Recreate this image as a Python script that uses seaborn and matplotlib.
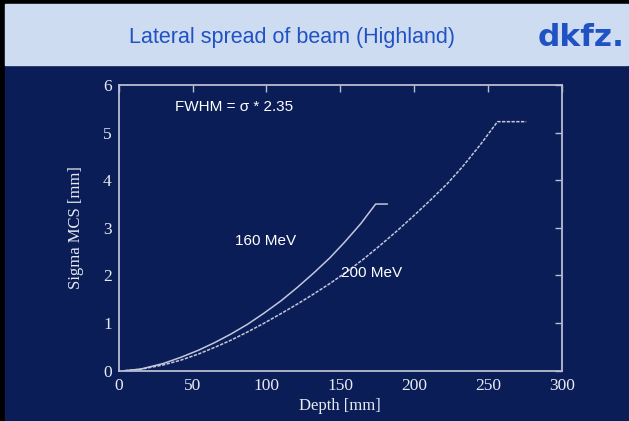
import matplotlib
matplotlib.use("Agg")
import matplotlib.pyplot as plt
from matplotlib.patches import Rectangle
import seaborn as sns
import pandas as pd

# Data
depth_160 = [4, 15, 30, 42, 54, 65, 76, 87, 98, 110, 121, 132, 143, 153, 164, 174, 182]
sigma_160 = [0.0, 0.035, 0.15, 0.28, 0.43, 0.59, 0.77, 0.97, 1.20, 1.47, 1.75, 2.05, 2.37, 2.70, 3.09, 3.50, 3.50]
depth_200 = [4, 15, 30, 42, 54, 65, 76, 87, 98, 110, 121, 132, 143, 155, 166, 177, 189, 200, 211, 222.6, 233,
             245, 256.5, 276]
sigma_200 = [0.0, 0.03, 0.12, 0.22, 0.35, 0.49, 0.64, 0.81, 0.99, 1.20, 1.40, 1.61, 1.83, 2.09, 2.35, 2.63, 2.95,
             3.26, 3.58, 3.93, 4.29, 4.75, 5.23, 5.23]
x_ticks = [0, 50, 100, 150, 200, 250, 300]
y_ticks = [0, 1, 2, 3, 4, 5, 6]

title = "Lateral spread of beam (Highland)"
logo = "dkfz."
xlabel = "Depth [mm]"
ylabel = "Sigma MCS [mm]"

NAVY = "#0a1d56"
HEADER = "#cddcf1"
BLUE = "#2152c4"
LINE = "#c3c7dc"
AXIS = "#b9bdd2"
TXT = "#e8eaf2"

sns.set_theme(style="white")
W, H = 629, 421
fig = plt.figure(figsize=(W / 100, H / 100), dpi=100)
fig.patch.set_facecolor(NAVY)

# slide decoration
fig.patches.append(Rectangle((0, 0), 1, 1, transform=fig.transFigure, color="black", zorder=-3))
fig.patches.append(Rectangle((5 / W, 0), (W - 6) / W, (H - 4) / H, transform=fig.transFigure,
                             color=NAVY, zorder=-2))
fig.patches.append(Rectangle((5 / W, (H - 65) / H), (W - 6) / W, 61 / H, transform=fig.transFigure,
                             color=HEADER, zorder=-1))
fig.text(292 / W, 1 - 37 / H, title, ha="center", va="center", color=BLUE,
         fontsize=15.5, family="Liberation Sans")
fig.text(581 / W, 1 - 38 / H, logo, ha="center", va="center", color=BLUE,
         fontsize=22.5, fontweight="bold", family="DejaVu Sans")

ax = fig.add_axes([118.7 / W, 1 - 370.7 / H, (561.7 - 118.7) / W, (370.7 - 85) / H])
ax.set_facecolor(NAVY)

d160 = pd.DataFrame({"Depth": depth_160, "Sigma": sigma_160})
d200 = pd.DataFrame({"Depth": depth_200, "Sigma": sigma_200})
sns.lineplot(data=d160, x="Depth", y="Sigma", ax=ax, color=LINE, linewidth=1.1, estimator=None, sort=False)
sns.lineplot(data=d200, x="Depth", y="Sigma", ax=ax, color=LINE, linewidth=1.1, estimator=None, sort=False,
             linestyle=(0, (2.2, 0.9)))

ax.set_xlim(0, 300)
ax.set_ylim(0, 6)
ax.set_xticks(x_ticks)
ax.set_yticks(y_ticks)
ax.set_xticklabels([str(v) for v in x_ticks])
ax.set_yticklabels([str(v) for v in y_ticks])
for s in ax.spines.values():
    s.set_color(AXIS)
    s.set_linewidth(1.3)
    s.set_visible(True)
ax.tick_params(direction="in", length=5, width=1, color=AXIS, top=True, right=True,
               labelcolor=TXT, labelsize=12.5, pad=5)
for lab in ax.get_xticklabels() + ax.get_yticklabels():
    lab.set_family("Liberation Serif")
ax.set_xlabel(xlabel, family="Liberation Serif", fontsize=12, color=TXT, labelpad=3)
ax.set_ylabel(ylabel, family="Liberation Serif", fontsize=12, color=TXT, labelpad=14)

ax.text(38, 5.54, "FWHM = σ * 2.35", color="white", fontsize=11, family="Liberation Sans", va="center")
ax.text(79, 2.72, "160 MeV", color="white", fontsize=11, family="Liberation Sans", va="center")
ax.text(150.5, 2.05, "200 MeV", color="white", fontsize=11, family="Liberation Sans", va="center")

fig.savefig("out.png", dpi=100, facecolor=fig.get_facecolor())
